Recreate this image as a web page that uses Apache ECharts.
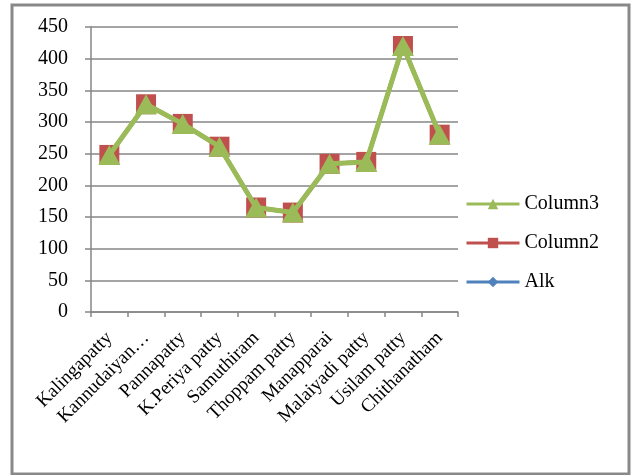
<!DOCTYPE html>
<html>
<head>
<meta charset="utf-8">
<script src="https://cdn.jsdelivr.net/npm/echarts@6/dist/echarts.min.js"></script>
<style>
  html, body { margin: 0; padding: 0; background: #fff; }
  #chart { width: 636px; height: 475px; }
</style>
</head>
<body>
<div id="chart"></div>
<script>
// Villages sampled along the x axis
const categories = [
  'Kalingapatty', 'Kannudaiyan…', 'Pannapatty', 'K.Periya patty', 'Samuthiram',
  'Thoppam patty', 'Manapparai', 'Malaiyadi patty', 'Usilam patty', 'Chithanatham'
];
// Alkalinity readings per village (three identical columns)
const alk     = [248, 328, 297, 261, 165, 157, 234, 237, 420, 280];
const column2 = [248, 328, 297, 261, 165, 157, 234, 237, 420, 280];
const column3 = [248, 328, 297, 261, 165, 157, 234, 237, 420, 280];
const yTicks = { min: 0, max: 450, interval: 50 };

const serif = 'Liberation Serif';
const chart = echarts.init(document.getElementById('chart'), null, { renderer: 'canvas' });

chart.setOption({
  animation: false,
  backgroundColor: '#fff',
  graphic: [{
    type: 'rect',
    shape: { x: 12, y: 5, width: 617, height: 469 },
    style: { fill: 'none', stroke: '#898989', lineWidth: 3 },
    z: -1
  }],
  grid: { left: 91, right: 178, top: 27, bottom: 163, containLabel: false },
  legend: {
    orient: 'vertical',
    left: 465,
    top: 194,
    padding: 0,
    itemWidth: 53,
    itemHeight: 13,
    itemGap: 19,
    lineStyle: { width: 3 },
    textStyle: { fontFamily: serif, fontSize: 20, color: '#000' },
    data: ['Column3', 'Column2', 'Alk']
  },
  xAxis: {
    type: 'category',
    data: categories,
    boundaryGap: true,
    axisLine: { lineStyle: { color: '#868686', width: 1.5 } },
    axisTick: { show: true, alignWithLabel: false, length: 5, lineStyle: { color: '#868686', width: 1.5 } },
    axisLabel: { rotate: 45, margin: 23, interval: 0, fontFamily: serif, fontSize: 19, color: '#000' },
    splitLine: { show: false }
  },
  yAxis: {
    type: 'value',
    min: yTicks.min,
    max: yTicks.max,
    interval: yTicks.interval,
    axisLine: { show: true, lineStyle: { color: '#868686', width: 1.5 } },
    axisTick: { show: true, length: 6, inside: false, lineStyle: { color: '#868686', width: 1.5 } },
    axisLabel: { margin: 23, fontFamily: serif, fontSize: 20, color: '#000' },
    splitLine: { lineStyle: { color: '#868686', width: 1.5 } }
  },
  series: [
    {
      name: 'Alk', type: 'line', data: alk,
      symbol: 'diamond', symbolSize: 12,
      lineStyle: { color: '#4F81BD', width: 4 },
      itemStyle: { color: '#4F81BD' }, z: 2
    },
    {
      name: 'Column2', type: 'line', data: column2,
      symbol: 'rect', symbolSize: 20,
      lineStyle: { color: '#C0504D', width: 4 },
      itemStyle: { color: '#C0504D' }, z: 3
    },
    {
      name: 'Column3', type: 'line', data: column3,
      symbol: 'triangle', symbolSize: [22, 20],
      lineStyle: { color: '#9BBB59', width: 5 },
      itemStyle: { color: '#9BBB59' }, z: 4
    }
  ]
});
</script>
</body>
</html>
